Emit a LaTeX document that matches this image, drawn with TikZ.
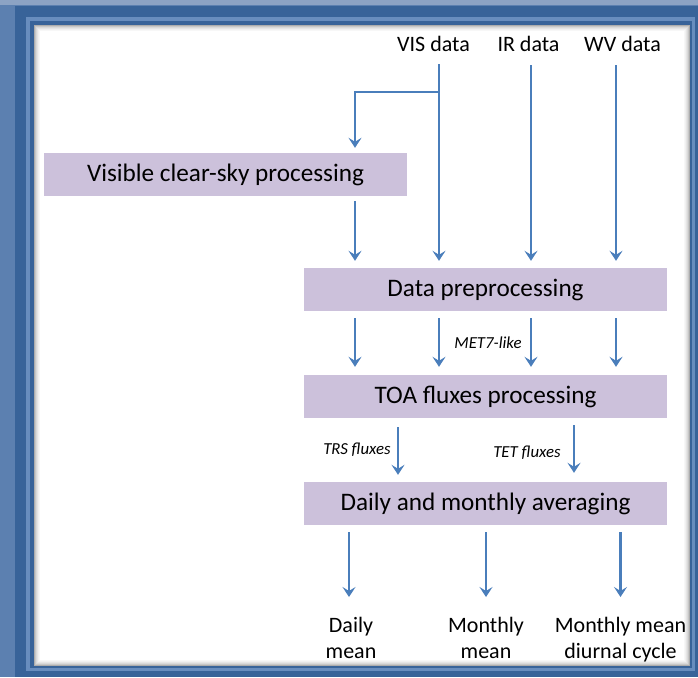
\documentclass[tikz,border=0pt]{standalone}
\usepackage{fontspec}
\setmainfont{Carlito}
\usetikzlibrary{arrows.meta}
\definecolor{frameLight}{RGB}{92,128,176}
\definecolor{frameTop}{RGB}{140,163,196}
\definecolor{frameDark}{RGB}{56,99,153}
\definecolor{frameStripe}{RGB}{104,141,190}
\definecolor{boxFill}{RGB}{204,193,219}
\definecolor{flow}{RGB}{74,126,187}
\begin{document}
\begin{tikzpicture}[x=1pt,y=-1pt,
  stage/.style={fill=boxFill, minimum width=363pt, minimum height=43pt,
    inner sep=0pt, font=\fontsize{25.2}{29}\selectfont},
  src/.style={font=\fontsize{22}{26}\selectfont, inner sep=0pt},
  tag/.style={font=\itshape\fontsize{16.8}{20}\selectfont, inner sep=0pt},
  outlbl/.style={font=\fontsize{22}{26}\selectfont, align=center, inner sep=0pt},
  arr/.style={draw=flow, line width=2.8pt,
    -{Stealth[length=10pt,width=13pt,inset=4pt]}}]
\useasboundingbox (0,0) rectangle (698,677);

% slide frame
\fill[frameLight] (0,0) rectangle (698,677);
\fill[frameTop] (0,0) rectangle (698,5);
\fill[frameDark] (15,6) rectangle (698,677);
\fill[frameStripe] (26,17) rectangle (695,671);
\fill[frameDark] (30,21) rectangle (692,668);
\fill[white] (34,25) rectangle (690,666);
% inner shadow of the panel
\foreach \i/\o in {0/0.32,1/0.22,2/0.15,3/0.10,4/0.06,5/0.03}
  \draw[black, opacity=\o, line width=1pt]
    (34.5+\i,25.5+\i) rectangle (689.5-\i,665.5-\i);

% processing stages
\node[stage] (vcs) at (225.5,174.5) {Visible clear-sky processing};
\node[stage] (dp)  at (485.5,289.5) {Data preprocessing};
\node[stage] (toa) at (485.5,396.5) {TOA fluxes processing};
\node[stage] (avg) at (485.5,503.5) {Daily and monthly averaging};

% input channels
\node[src] (vis) at (433.5,44) {VIS data};
\node[src] (ir)  at (528.5,44) {IR data};
\node[src] (wv)  at (622.5,44) {WV data};

% outputs
\node[outlbl] (daily)   at (351,638) {Daily\\mean};
\node[outlbl] (monthly) at (486,638) {Monthly\\mean};
\node[outlbl] (diurnal) at (620.5,640) {Monthly mean\\diurnal cycle};

% arrow columns
\coordinate (visTop) at (439,64);
\coordinate (irTop)  at (531,65);
\coordinate (wvTop)  at (616,65);
\coordinate (branch) at (439,92);
\coordinate (bendL)  at (355,92);
\coordinate (trsX)   at (398,0);
\coordinate (tetX)   at (574,0);
\coordinate (dX)     at (349,0);
\coordinate (mX)     at (486,0);
\coordinate (cX)     at (620.5,0);

% inputs into the first stages
\draw[arr, shorten >=7pt] (visTop) -- (visTop |- dp.north);
\draw[arr, shorten >=7pt] (irTop) -- (irTop |- dp.north);
\draw[arr, shorten >=7pt] (wvTop) -- (wvTop |- dp.north);
\draw[arr, shorten >=5pt] (branch) -- (bendL) -- (bendL |- vcs.north);
\draw[arr, shorten <=5pt, shorten >=7pt] (vcs.south -| bendL) -- (bendL |- dp.north);

% preprocessing to TOA fluxes
\foreach \c in {bendL,visTop,irTop,wvTop}
  \draw[arr, shorten <=7pt, shorten >=8pt] (dp.south -| \c) -- (toa.north -| \c);
\node[tag] (met) at (488,343) {MET7-like};

% TOA fluxes to averaging
\draw[arr, shorten <=9pt, shorten >=7pt] (toa.south -| trsX) -- (avg.north -| trsX);
\draw[arr, shorten <=7pt, shorten >=9pt] (toa.south -| tetX) -- (avg.north -| tetX);
\node[tag] (trs) at (357,450) {TRS fluxes};
\node[tag] (tet) at (527,453) {TET fluxes};

% averaging to outputs
\foreach \c/\o in {dX/daily,mX/monthly,cX/diurnal}
  \draw[arr, shorten <=7pt] (avg.south -| \c) -- (\c |- 0,597);
\end{tikzpicture}
\end{document}
